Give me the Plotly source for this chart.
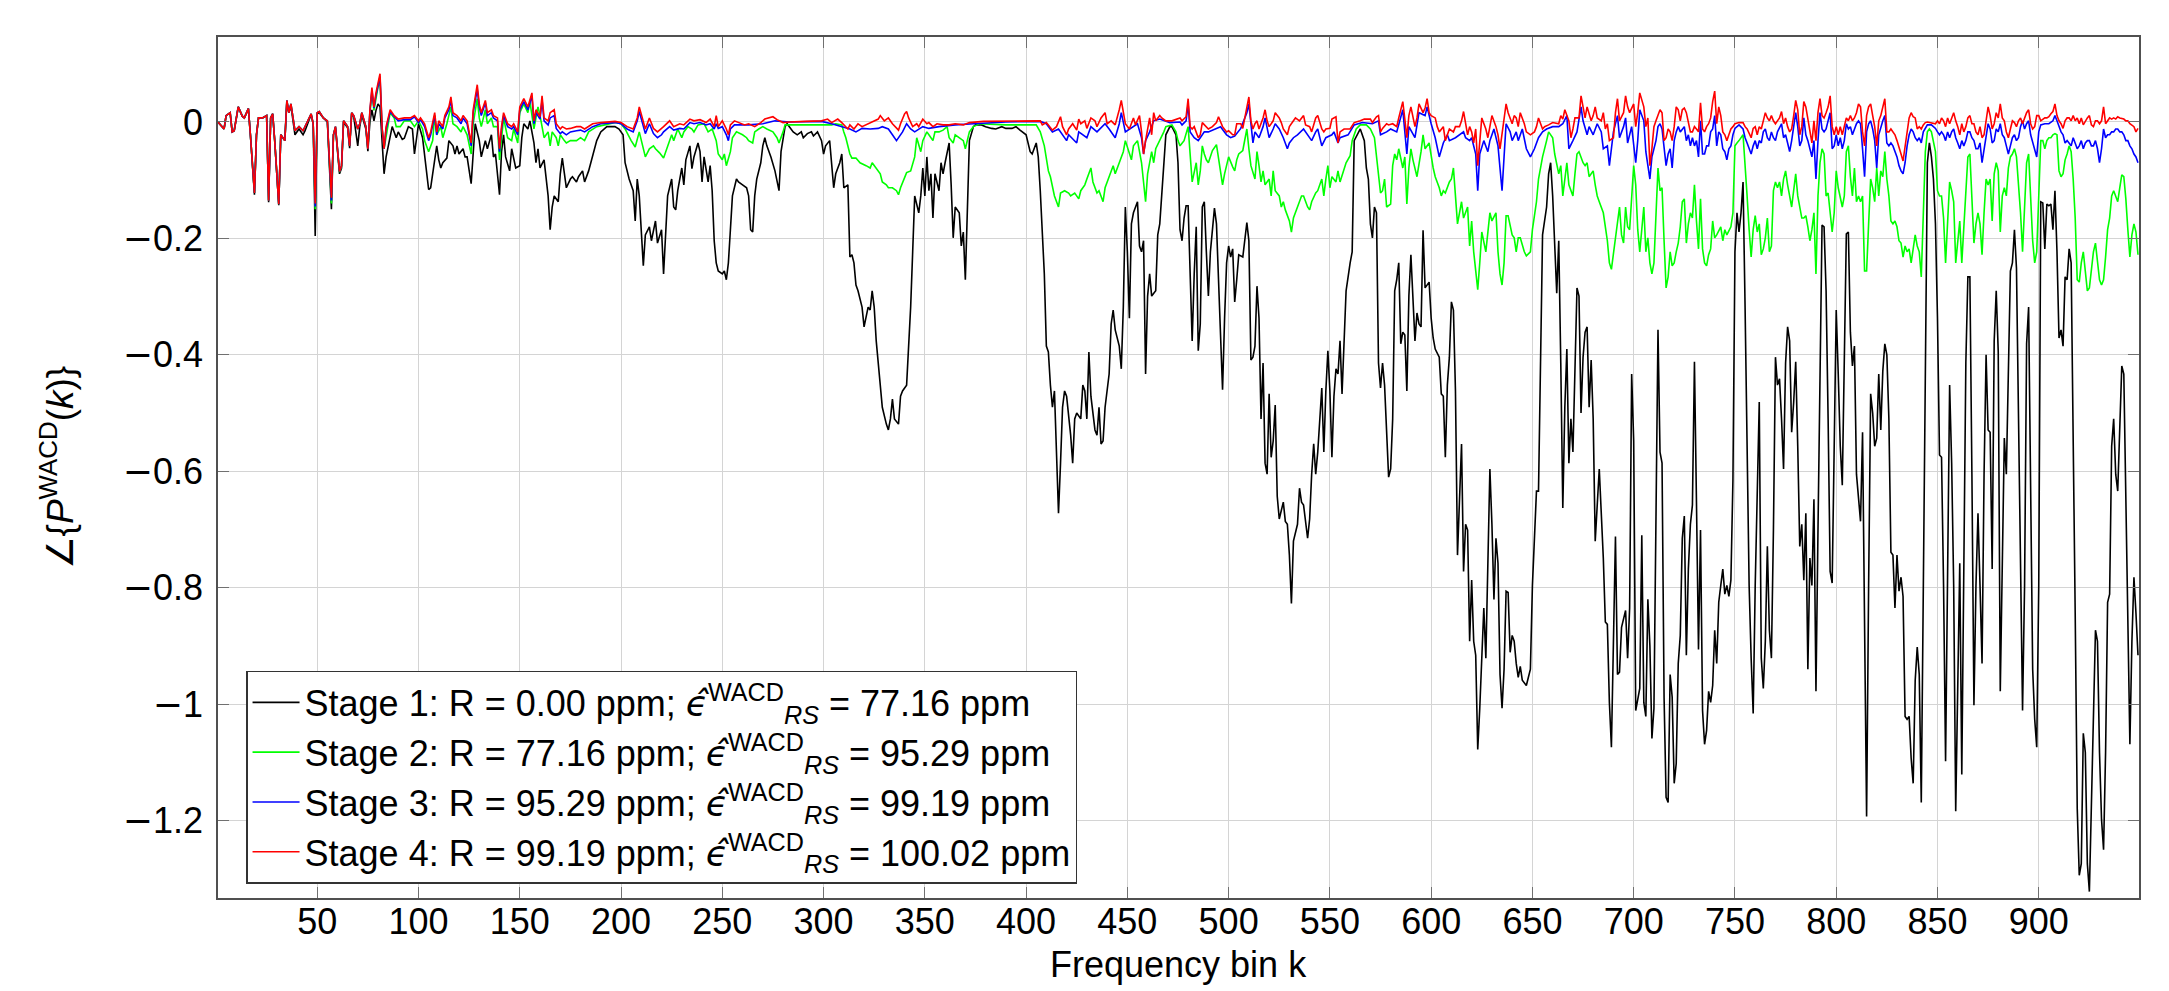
import plotly.graph_objects as go

# ---------------- data: (frequency bin k, phase) ----------------
stage1 = [(1,0.000),(4,-0.012),(5,0.011),(7,0.016),(8,-0.017),(9,-0.015),(11,0.026),(13,0.010),(14,0.007),(16,0.023),(17,-0.022),(19,-0.125),(20,-0.022),(21,0.007),(23,0.007),(25,0.011),(26,-0.138),(27,0.007),(28,0.014),(29,-0.032),(31,-0.143),(32,-0.022),(34,-0.032),(35,0.034),(36,0.016),(37,0.028),(39,-0.022),(40,-0.017),(41,-0.012),(43,-0.022),(44,-0.015),(46,0.004),(47,0.012),(48,-0.003),(49,-0.196),(50,0.014),(51,0.016),(53,0.007),(55,0.000),(57,-0.150),(58,-0.022),(59,-0.010),(61,-0.089),(62,-0.079),(63,0.000),(65,-0.010),(66,-0.045),(67,0.014),(68,0.009),(70,-0.041),(71,-0.008),(72,0.012),(74,-0.012),(75,-0.050),(76,0.000),(77,0.021),(78,0.002),(79,0.020),(80,0.031),(81,0.026),(82,-0.041),(83,-0.089),
(84,-0.060),(86,-0.022),(87,-0.008),(89,-0.027),(90,-0.017),(92,-0.030),(93,-0.028),(95,-0.008),(97,-0.012),(98,-0.055),(100,-0.003),(102,-0.027),(103,-0.060),(105,-0.116),(106,-0.113),(108,-0.070),(109,-0.041),(110,-0.065),(111,-0.079),(112,-0.070),(114,-0.062),(115,-0.032),(117,-0.041),(118,-0.055),(119,-0.041),(120,-0.055),(122,-0.046),(123,-0.060),(124,-0.060),(126,-0.106),(127,-0.055),(128,-0.003),(130,-0.032),(131,-0.060),(133,-0.032),(134,-0.046),(136,-0.022),(137,-0.060),(138,-0.055),(140,-0.125),(141,-0.051),(142,-0.022),(143,-0.060),(145,-0.084),(146,-0.046),(147,-0.060),(148,-0.079),(150,-0.075),(151,-0.027),(152,-0.003),(154,-0.012),(155,0.002),(157,-0.036),(158,-0.070),(159,-0.046),(160,-0.079),(162,-0.065),(164,-0.127),(165,-0.185),(166,-0.146),(167,-0.127),(169,-0.137),(170,-0.089),(171,-0.062),(172,-0.084),(173,-0.113),(175,-0.098),(176,-0.094),(178,-0.103),(179,-0.094),(181,-0.084),(182,-0.103),(184,-0.084),(185,-0.070),(187,-0.046),(188,-0.032),(190,-0.017),(192,-0.011),(193,-0.008),(197,-0.008),(199,-0.012),(201,-0.022),(202,-0.070),(204,-0.098),(206,-0.118),(207,-0.170),(208,-0.098),(209,-0.127),(211,-0.247),(212,-0.194),(214,-0.180),(215,-0.204),(216,-0.185),(217,-0.170),(218,-0.208),(220,-0.185),(221,-0.261),(222,-0.194),(223,-0.127),(225,-0.098),(226,-0.146),(227,-0.151),(228,-0.118),(230,-0.079),(231,-0.108),(232,-0.065),(234,-0.041),(235,-0.080),(236,-0.060),(238,-0.036),(239,-0.051),(240,-0.103),(241,-0.060),(243,-0.103),(244,-0.075),(245,-0.118),(246,-0.204),(247,-0.242),(248,-0.256),(250,-0.261),(251,-0.256),(252,-0.271),(253,-0.242),(254,-0.185),(255,-0.127),(257,-0.098),(258,-0.103),(260,-0.108),(262,-0.113),(263,-0.127),(264,-0.185),(265,-0.189),(266,-0.127),(267,-0.098),(269,-0.070),(270,-0.041),(271,-0.027),(272,-0.041),(274,-0.060),(276,-0.084),(277,-0.103),(278,-0.118),(279,-0.051),(281,-0.008),(282,-0.003),(284,-0.012),(285,-0.017),(287,-0.022),(289,-0.017),(290,-0.027),(292,-0.020),(294,-0.017),(295,-0.024),(297,-0.017),(299,-0.032),(300,-0.055),(301,-0.041),(303,-0.032),(304,-0.070),(305,-0.113),(306,-0.089),(308,-0.070),(309,-0.055),(310,-0.113),(312,-0.108),(313,-0.232),(314,-0.228),(315,-0.242),(316,-0.280),(317,-0.290),(319,-0.318),(320,-0.352),(322,-0.318),(323,-0.323),(324,-0.290),(325,-0.318),(326,-0.376),(327,-0.414),(328,-0.452),(329,-0.490),(331,-0.519),(332,-0.529),(333,-0.510),(334,-0.476),(335,-0.510),(337,-0.519),(338,-0.471),(339,-0.462),(341,-0.452),(342,-0.395),(343,-0.318),(344,-0.223),(345,-0.127),(347,-0.156),(348,-0.127),(349,-0.079),(350,-0.127),(351,-0.060),(352,-0.118),(353,-0.089),(354,-0.165),(355,-0.089),(357,-0.118),(358,-0.070),(359,-0.089),(360,-0.070),(362,-0.036),(363,-0.108),(364,-0.199),(365,-0.146),(367,-0.156),(368,-0.213),(369,-0.189),(370,-0.271),(371,-0.127),(372,-0.032),(374,-0.008),(375,-0.005),(378,-0.005),(380,-0.008),(383,-0.011),(385,-0.012),(388,-0.008),(390,-0.011),(393,-0.011),(395,-0.008),(397,-0.014),(400,-0.022),(402,-0.051),(403,-0.055),(405,-0.036),(406,-0.060),(407,-0.118),(408,-0.185),(409,-0.261),(410,-0.385),(411,-0.395),(412,-0.452),(413,-0.490),(414,-0.462),(415,-0.586),(416,-0.672),(417,-0.586),(418,-0.490),(419,-0.462),(420,-0.471),(422,-0.538),(423,-0.586),(424,-0.510),(425,-0.500),(427,-0.510),(428,-0.452),(429,-0.462),(430,-0.510),(431,-0.395),(432,-0.471),(434,-0.529),(435,-0.538),(436,-0.490),(437,-0.553),(438,-0.548),(439,-0.490),(441,-0.433),(442,-0.347),(443,-0.323),(444,-0.357),(446,-0.385),(447,-0.424),(448,-0.318),(449,-0.146),(450,-0.223),(451,-0.337),(452,-0.175),(453,-0.156),(455,-0.137),(456,-0.213),(457,-0.223),(458,-0.204),(459,-0.433),(460,-0.299),(461,-0.261),(462,-0.299),(464,-0.290),(465,-0.194),(466,-0.175),(467,-0.118),(468,-0.070),(469,-0.022),(471,-0.008),(472,-0.008),(474,-0.022),(475,-0.070),(476,-0.185),(477,-0.204),(478,-0.165),(479,-0.144),(480,-0.144),(481,-0.271),(482,-0.376),(483,-0.261),(484,-0.180),(485,-0.393),(486,-0.347),(487,-0.146),(488,-0.137),(489,-0.223),(490,-0.299),(491,-0.223),(493,-0.148),(494,-0.175),(495,-0.280),(497,-0.460),(498,-0.337),(499,-0.242),(500,-0.213),(501,-0.232),(502,-0.218),(503,-0.309),(504,-0.271),(505,-0.228),(507,-0.232),(508,-0.204),(509,-0.173),(510,-0.204),(511,-0.409),(512,-0.404),(513,-0.385),(514,-0.282),(515,-0.337),(516,-0.510),(517,-0.414),(518,-0.586),(519,-0.605),(520,-0.467),(521,-0.576),(522,-0.548),(523,-0.486),(524,-0.643),(525,-0.682),(527,-0.653),(528,-0.686),(529,-0.691),(530,-0.744),(531,-0.827),(532,-0.720),(534,-0.691),(535,-0.629),(536,-0.653),(537,-0.658),(539,-0.715),(540,-0.682),(541,-0.605),(542,-0.553),(543,-0.605),(544,-0.567),(546,-0.457),(547,-0.567),(548,-0.462),(549,-0.393),(550,-0.462),(551,-0.576),(552,-0.471),(553,-0.424),(554,-0.433),(555,-0.376),(556,-0.467),(557,-0.376),(558,-0.290),(560,-0.242),(561,-0.223),(562,-0.032),(564,-0.017),(565,-0.012),(567,-0.032),(568,-0.079),(569,-0.098),(570,-0.175),(571,-0.199),(572,-0.146),(573,-0.156),(574,-0.414),(575,-0.457),(576,-0.414),(577,-0.452),(578,-0.538),(579,-0.610),(580,-0.596),(581,-0.510),(582,-0.290),(583,-0.271),(584,-0.242),(585,-0.381),(586,-0.361),(587,-0.366),(588,-0.462),(589,-0.299),(590,-0.228),(591,-0.318),(592,-0.376),(593,-0.328),(594,-0.347),(595,-0.352),(596,-0.186),(597,-0.285),(598,-0.280),(599,-0.275),(600,-0.337),(601,-0.371),(602,-0.390),(604,-0.404),(605,-0.467),(606,-0.471),(607,-0.576),(608,-0.452),(609,-0.404),(610,-0.309),(611,-0.323),(612,-0.462),(613,-0.744),(614,-0.663),(615,-0.553),(616,-0.772),(617,-0.691),(618,-0.701),(619,-0.892),(620,-0.787),(621,-0.892),(622,-0.916),(623,-1.078),(624,-1.007),(625,-0.911),(626,-0.835),(627,-0.921),(628,-0.749),(629,-0.596),(630,-0.691),(631,-0.820),(632,-0.715),(633,-0.758),(634,-0.949),(635,-1.007),(636,-0.940),(637,-0.806),(638,-0.808),(639,-0.911),(640,-0.882),(641,-0.892),(642,-0.930),(643,-0.954),(644,-0.935),(645,-0.959),(647,-0.968),(648,-0.954),(649,-0.940),(650,-0.796),(652,-0.634),(653,-0.634),(654,-0.414),(655,-0.194),(657,-0.146),(658,-0.089),(659,-0.070),(660,-0.127),(662,-0.294),(663,-0.204),(664,-0.414),(665,-0.663),(666,-0.490),(667,-0.390),(668,-0.586),(669,-0.510),(670,-0.567),(671,-0.414),(672,-0.285),(673,-0.299),(674,-0.500),(675,-0.404),(676,-0.361),(677,-0.352),(678,-0.490),(679,-0.409),(680,-0.510),(681,-0.720),(682,-0.653),(683,-0.596),(685,-0.749),(686,-0.859),(687,-0.863),(688,-0.997),(689,-1.074),(690,-0.873),(691,-0.712),(692,-0.949),(693,-0.945),(694,-0.868),(695,-0.854),(696,-0.839),(697,-0.921),(698,-0.835),(699,-0.433),(700,-0.548),(701,-1.011),(703,-0.973),(704,-0.710),(705,-0.997),(706,-1.021),(707,-0.820),(708,-0.900),(709,-1.059),(710,-1.007),(711,-0.701),(712,-0.357),(713,-0.567),(714,-0.586),(715,-0.988),(716,-1.160),(717,-1.169),(718,-0.949),(719,-0.988),(720,-1.136),(721,-1.102),(722,-0.930),(723,-0.882),(724,-0.715),(725,-0.677),(726,-0.916),(727,-0.768),(728,-0.691),(729,-0.658),(730,-0.412),(731,-0.653),(732,-0.906),(733,-0.701),(734,-1.011),(735,-1.069),(736,-1.045),(737,-0.978),(738,-0.997),(739,-0.968),(740,-0.873),(741,-0.930),(742,-0.825),(743,-0.796),(744,-0.768),(745,-0.811),(746,-0.796),(747,-0.815),(748,-0.787),(749,-0.615),(750,-0.223),(751,-0.156),(752,-0.189),(753,-0.156),(754,-0.103),(755,-0.318),(756,-0.605),(757,-0.796),(758,-0.921),(759,-1.016),(760,-0.796),(761,-0.624),(762,-0.481),(763,-0.921),(764,-0.973),(765,-0.892),(766,-0.729),(767,-0.873),(768,-0.921),(769,-0.701),(770,-0.404),(771,-0.452),(772,-0.441),(773,-0.510),(774,-0.596),(775,-0.414),(776,-0.352),(777,-0.376),(778,-0.533),(779,-0.481),(780,-0.412),(781,-0.557),(782,-0.729),(783,-0.691),(784,-0.787),(785,-0.672),(786,-0.940),(787,-0.749),(788,-0.796),(789,-0.648),(790,-0.978),(791,-0.701),(792,-0.414),(793,-0.177),(794,-0.180),(795,-0.290),(796,-0.510),(797,-0.772),(798,-0.792),(799,-0.557),(800,-0.323),(801,-0.433),(802,-0.557),(803,-0.624),(804,-0.404),(805,-0.192),(806,-0.189),(807,-0.361),(808,-0.419),(809,-0.385),(810,-0.605),(811,-0.653),(812,-0.686),(813,-0.533),(814,-0.892),(815,-1.193),(816,-0.796),(817,-0.467),(818,-0.500),(819,-0.557),(820,-0.543),(821,-0.433),(822,-0.529),(823,-0.428),(824,-0.381),(825,-0.400),(826,-0.510),(827,-0.739),(828,-0.744),(829,-0.835),(830,-0.744),(831,-0.806),(832,-0.782),(833,-0.815),(834,-1.021),(835,-1.026),(836,-1.021),(837,-1.093),(838,-1.136),(839,-0.959),(840,-0.902),(841,-0.949),(842,-1.169),(843,-0.796),(844,-0.318),(845,-0.070),(846,-0.036),(847,-0.060),(848,-0.098),(849,-0.175),(850,-0.337),(851,-0.572),(852,-0.576),(853,-0.796),(854,-1.098),(855,-0.796),(856,-0.452),(857,-0.586),(858,-0.796),(859,-1.184),(860,-0.988),(861,-0.758),(862,-1.121),(863,-0.796),(864,-0.414),(865,-0.266),(866,-0.266),(867,-0.605),(868,-1.002),(869,-0.796),(870,-0.672),(871,-0.796),(872,-0.930),(873,-0.605),(874,-0.400),(875,-0.529),(876,-0.533),(877,-0.768),(878,-0.376),(879,-0.290),(880,-0.395),(881,-0.978),(882,-0.749),(883,-0.543),(884,-0.605),(885,-0.433),(886,-0.256),(887,-0.242),(888,-0.185),(889,-0.251),(890,-0.510),(891,-0.796),(892,-1.011),(893,-0.796),(894,-0.381),(895,-0.318),(896,-0.605),(897,-0.940),(898,-1.026),(899,-1.074),(900,-0.796),(901,-0.137),(902,-0.139),(903,-0.218),(904,-0.141),(905,-0.144),(906,-0.141),(907,-0.185),(908,-0.118),(909,-0.223),(910,-0.371),(911,-0.357),(912,-0.385),(913,-0.266),(914,-0.271),(915,-0.218),(916,-0.242),(917,-0.510),(918,-0.844),(919,-1.179),(920,-1.294),(921,-1.274),(922,-1.050),(923,-1.083),(924,-1.274),(925,-1.322),(926,-1.179),(927,-0.988),(928,-0.873),(929,-0.892),(930,-1.083),(931,-1.198),(932,-1.250),(933,-1.083),(934,-0.825),(935,-0.811),(936,-0.557),(937,-0.510),(938,-0.605),(939,-0.634),(940,-0.510),(941,-0.419),(942,-0.433),(943,-0.653),(944,-0.796),(945,-1.069),(946,-0.892),(947,-0.782),(948,-0.844),(949,-0.916)]

stage2 = [(1,0.000),(4,-0.012),(5,0.011),(7,0.016),(8,-0.017),(9,-0.015),(11,0.026),(13,0.010),(14,0.007),(16,0.023),(17,-0.022),(19,-0.122),(20,-0.022),(21,0.007),(23,0.007),(25,0.011),(26,-0.135),(27,0.007),(28,0.014),(29,-0.032),(31,-0.141),(32,-0.022),(34,-0.032),(35,0.037),(36,0.016),(37,0.031),(39,-0.015),(40,-0.012),(41,-0.008),(43,-0.015),(44,-0.008),(46,0.007),(47,0.014),(48,-0.003),(49,-0.150),(50,0.016),(51,0.018),(53,0.007),(55,0.002),(57,-0.140),(58,-0.022),(59,-0.008),(61,-0.086),(62,-0.076),(63,0.002),(65,-0.008),(66,-0.041),(67,0.016),(68,0.011),(70,-0.012),(71,-0.003),(72,0.016),(74,-0.008),(75,-0.046),(76,0.015),(77,0.050),(78,0.020),(79,0.040),(80,0.060),(81,0.070),(82,-0.012),(83,-0.046),
(84,-0.027),(86,0.016),(88,0.007),(89,-0.008),(91,-0.008),(93,0.002),(96,0.002),(98,-0.008),(100,0.002),(102,-0.012),(103,-0.032),(105,-0.051),(107,-0.032),(108,0.011),(109,-0.022),(111,-0.008),(112,-0.027),(114,-0.003),(116,0.026),(117,-0.003),(119,-0.008),(121,-0.017),(122,-0.008),(124,-0.022),(126,-0.055),(127,-0.003),(129,0.040),(130,0.007),(131,-0.008),(133,0.021),(134,-0.003),(136,0.007),(137,-0.008),(139,-0.008),(140,-0.065),(141,-0.022),(142,0.007),(144,-0.027),(146,-0.032),(147,-0.012),(149,-0.036),(150,0.016),(152,0.031),(154,0.016),(155,0.035),(157,-0.012),(158,0.007),(159,0.026),(160,0.011),(162,-0.027),(164,-0.017),(165,-0.041),(166,-0.017),(168,-0.027),(169,-0.041),(170,-0.022),(172,-0.032),(173,-0.036),(175,-0.032),(178,-0.032),(180,-0.027),(182,-0.032),(184,-0.017),(186,-0.012),(188,-0.008),(192,-0.005),(197,-0.001),(200,-0.003),(202,-0.012),(205,-0.032),(207,-0.043),(209,-0.017),(211,-0.046),(212,-0.060),(214,-0.046),(216,-0.041),(217,-0.046),(219,-0.053),(221,-0.062),(223,-0.041),(225,-0.022),(226,-0.032),(228,-0.012),(230,-0.027),(231,-0.017),(233,-0.008),(235,-0.012),(236,-0.017),(238,-0.005),(241,-0.003),(243,-0.017),(245,-0.012),(247,-0.032),(248,-0.055),(250,-0.065),(251,-0.055),(252,-0.075),(254,-0.051),(255,-0.027),(257,-0.017),(260,-0.022),(262,-0.027),(263,-0.032),(265,-0.036),(266,-0.017),(268,-0.012),(270,-0.008),(272,-0.012),(275,-0.017),(277,-0.027),(278,-0.036),(280,-0.017),(281,-0.005),(290,-0.005),(300,-0.005),(304,-0.005),(306,-0.003),(309,-0.005),(310,-0.017),(311,-0.027),(313,-0.055),(314,-0.062),(316,-0.062),(318,-0.070),(321,-0.075),(323,-0.079),(324,-0.070),(326,-0.079),(328,-0.089),(329,-0.103),(331,-0.108),(332,-0.113),(334,-0.113),(336,-0.118),(337,-0.125),(338,-0.113),(340,-0.094),(341,-0.087),(343,-0.084),(345,-0.060),(346,-0.027),(348,-0.051),(349,-0.032),(351,-0.017),(352,-0.022),(354,-0.032),(355,-0.017),(357,-0.017),(359,-0.014),(361,-0.008),(362,-0.027),(364,-0.036),(365,-0.022),(367,-0.027),(369,-0.032),(370,-0.046),(372,-0.017),(374,-0.008),(377,-0.003),(390,-0.005),(405,-0.005),(407,-0.017),(409,-0.041),(411,-0.084),(412,-0.094),(414,-0.127),(416,-0.146),(417,-0.122),(419,-0.118),(421,-0.122),(422,-0.127),(424,-0.122),(426,-0.132),(427,-0.118),(429,-0.108),(430,-0.098),(432,-0.079),(433,-0.103),(435,-0.122),(436,-0.118),(438,-0.137),(439,-0.113),(441,-0.094),(443,-0.075),(444,-0.089),(446,-0.070),(448,-0.051),(449,-0.032),(451,-0.055),(452,-0.065),(453,-0.041),(455,-0.032),(456,-0.051),(457,-0.070),(459,-0.137),(460,-0.089),(462,-0.051),(463,-0.070),(464,-0.046),(466,-0.032),(468,-0.017),(469,-0.008),(472,-0.005),(474,-0.017),(475,-0.032),(476,-0.041),(478,-0.032),(480,-0.008),(481,-0.065),(482,-0.103),(484,-0.070),(485,-0.108),(486,-0.084),(487,-0.041),(488,-0.055),(489,-0.065),(490,-0.070),(492,-0.049),(494,-0.039),(495,-0.060),(497,-0.108),(498,-0.089),(499,-0.075),(500,-0.060),(502,-0.077),(503,-0.084),(504,-0.065),(505,-0.055),(507,-0.049),(508,-0.027),(509,-0.012),(510,-0.046),(511,-0.075),(513,-0.098),(514,-0.051),(515,-0.075),(516,-0.103),(517,-0.084),(518,-0.108),(520,-0.098),(521,-0.127),(522,-0.084),(523,-0.118),(525,-0.127),(526,-0.146),(527,-0.137),(528,-0.151),(530,-0.170),(531,-0.189),(532,-0.165),(534,-0.146),(536,-0.127),(537,-0.127),(539,-0.146),(540,-0.151),(541,-0.137),(543,-0.122),(544,-0.118),(546,-0.098),(547,-0.127),(548,-0.098),(549,-0.075),(550,-0.113),(551,-0.094),(553,-0.103),(554,-0.084),(555,-0.103),(557,-0.079),(558,-0.070),(560,-0.058),(561,-0.032),(563,-0.012),(565,-0.005),(568,-0.005),(570,-0.012),(572,-0.027),(573,-0.060),(575,-0.122),(576,-0.118),(577,-0.098),(578,-0.146),(580,-0.141),(581,-0.075),(582,-0.055),(583,-0.065),(584,-0.046),(586,-0.079),(587,-0.060),(588,-0.141),(589,-0.079),(590,-0.046),(591,-0.065),(593,-0.094),(594,-0.075),(595,-0.051),(596,-0.022),(597,-0.046),(599,-0.036),(600,-0.060),(601,-0.079),(602,-0.094),(604,-0.113),(605,-0.127),(606,-0.118),(607,-0.122),(609,-0.103),(610,-0.098),(611,-0.079),(612,-0.127),(613,-0.175),(614,-0.156),(615,-0.137),(616,-0.165),(618,-0.146),(619,-0.213),(620,-0.170),(621,-0.223),(623,-0.288),(624,-0.242),(625,-0.189),(627,-0.223),(628,-0.185),(629,-0.156),(630,-0.170),(632,-0.156),(633,-0.223),(634,-0.261),(635,-0.280),(636,-0.242),(637,-0.161),(638,-0.161),(640,-0.194),(641,-0.199),(642,-0.223),(643,-0.199),(644,-0.199),(646,-0.223),(647,-0.230),(649,-0.223),(650,-0.185),(652,-0.137),(653,-0.098),(655,-0.060),(657,-0.032),(658,-0.017),(660,-0.027),(661,-0.055),(663,-0.089),(664,-0.075),(665,-0.127),(666,-0.094),(667,-0.070),(668,-0.108),(670,-0.127),(671,-0.089),(672,-0.055),(673,-0.051),(675,-0.070),(676,-0.075),(677,-0.070),(678,-0.094),(680,-0.084),(681,-0.108),(682,-0.127),(683,-0.137),(685,-0.156),(687,-0.204),(688,-0.242),(689,-0.253),(690,-0.228),(692,-0.180),(693,-0.146),(694,-0.194),(695,-0.208),(696,-0.146),(697,-0.180),(698,-0.185),(700,-0.075),(701,-0.108),(702,-0.185),(703,-0.223),(705,-0.146),(706,-0.223),(707,-0.199),(708,-0.242),(709,-0.261),(710,-0.242),(711,-0.146),(712,-0.079),(713,-0.118),(714,-0.113),(715,-0.204),(716,-0.285),(717,-0.266),(718,-0.223),(719,-0.247),(720,-0.242),(721,-0.223),(722,-0.208),(723,-0.180),(724,-0.137),(725,-0.132),(726,-0.208),(727,-0.175),(728,-0.156),(729,-0.165),(730,-0.108),(731,-0.170),(732,-0.218),(733,-0.132),(734,-0.218),(735,-0.242),(736,-0.247),(737,-0.228),(738,-0.218),(739,-0.170),(740,-0.199),(741,-0.194),(743,-0.180),(744,-0.204),(745,-0.185),(746,-0.194),(748,-0.180),(749,-0.156),(750,-0.041),(751,-0.036),(752,-0.032),(754,-0.022),(755,-0.070),(756,-0.127),(757,-0.185),(758,-0.232),(759,-0.185),(760,-0.161),(761,-0.189),(762,-0.175),(763,-0.228),(764,-0.218),(765,-0.199),(766,-0.165),(767,-0.223),(768,-0.213),(769,-0.118),(770,-0.103),(771,-0.113),(772,-0.103),(773,-0.127),(774,-0.098),(775,-0.084),(776,-0.108),(778,-0.146),(779,-0.118),(780,-0.089),(781,-0.127),(783,-0.165),(784,-0.165),(785,-0.161),(786,-0.180),(787,-0.204),(788,-0.185),(789,-0.156),(790,-0.261),(791,-0.127),(792,-0.070),(793,-0.046),(794,-0.055),(795,-0.127),(796,-0.122),(797,-0.156),(798,-0.189),(799,-0.156),(800,-0.084),(801,-0.113),(802,-0.127),(803,-0.146),(804,-0.127),(805,-0.051),(806,-0.041),(807,-0.094),(808,-0.127),(809,-0.079),(810,-0.137),(811,-0.127),(812,-0.137),(813,-0.127),(814,-0.256),(815,-0.256),(816,-0.175),(817,-0.098),(818,-0.113),(819,-0.137),(820,-0.079),(821,-0.127),(822,-0.084),(823,-0.094),(824,-0.051),(825,-0.098),(826,-0.127),(827,-0.170),(828,-0.175),(829,-0.170),(830,-0.180),(831,-0.204),(832,-0.208),(833,-0.232),(834,-0.213),(835,-0.223),(836,-0.218),(837,-0.242),(838,-0.218),(839,-0.194),(840,-0.213),(841,-0.223),(842,-0.266),(843,-0.175),(844,-0.051),(845,-0.017),(846,-0.012),(847,-0.017),(848,-0.032),(849,-0.051),(850,-0.118),(851,-0.127),(852,-0.127),(853,-0.165),(854,-0.242),(855,-0.165),(856,-0.103),(857,-0.118),(858,-0.137),(859,-0.242),(860,-0.199),(861,-0.170),(862,-0.242),(863,-0.175),(864,-0.118),(865,-0.060),(866,-0.055),(867,-0.127),(868,-0.208),(869,-0.175),(870,-0.156),(871,-0.175),(872,-0.228),(873,-0.156),(874,-0.098),(875,-0.108),(876,-0.098),(877,-0.170),(878,-0.089),(879,-0.070),(880,-0.084),(881,-0.189),(882,-0.127),(883,-0.113),(884,-0.127),(885,-0.079),(886,-0.060),(887,-0.055),(888,-0.046),(889,-0.060),(890,-0.108),(891,-0.156),(892,-0.223),(893,-0.137),(894,-0.070),(895,-0.055),(896,-0.122),(897,-0.204),(898,-0.242),(899,-0.223),(900,-0.127),(901,-0.032),(902,-0.032),(903,-0.046),(904,-0.032),(905,-0.027),(906,-0.027),(907,-0.022),(908,-0.020),(909,-0.022),(910,-0.084),(911,-0.094),(912,-0.089),(913,-0.065),(914,-0.055),(915,-0.041),(916,-0.051),(917,-0.098),(918,-0.165),(919,-0.271),(920,-0.275),(921,-0.242),(922,-0.223),(923,-0.261),(924,-0.290),(925,-0.285),(926,-0.251),(927,-0.223),(928,-0.208),(929,-0.242),(930,-0.271),(931,-0.280),(932,-0.271),(933,-0.232),(934,-0.185),(935,-0.165),(936,-0.127),(937,-0.118),(938,-0.127),(939,-0.137),(940,-0.113),(941,-0.091),(942,-0.094),(943,-0.132),(944,-0.185),(945,-0.232),(946,-0.194),(947,-0.175),(948,-0.189),(949,-0.228)]

stage3 = [(1,0.000),(4,-0.012),(5,0.011),(7,0.016),(8,-0.017),(9,-0.015),(11,0.026),(13,0.010),(14,0.007),(16,0.023),(17,-0.022),(19,-0.122),(20,-0.022),(21,0.007),(23,0.007),(25,0.011),(26,-0.135),(27,0.007),(28,0.014),(29,-0.032),(31,-0.141),(32,-0.022),(34,-0.032),(35,0.037),(36,0.016),(37,0.031),(39,-0.015),(40,-0.012),(41,-0.008),(43,-0.015),(44,-0.008),(46,0.007),(47,0.014),(48,-0.003),(49,-0.145),(50,0.016),(51,0.018),(53,0.007),(55,0.002),(57,-0.135),(58,-0.022),(59,-0.008),(61,-0.085),(62,-0.075),(63,0.002),(65,-0.008),(66,-0.041),(67,0.016),(68,0.011),(70,-0.012),(71,-0.003),(72,0.016),(74,-0.008),(75,-0.046),(76,0.018),(77,0.055),(78,0.024),(79,0.046),(80,0.065),(81,0.078),(82,-0.010),(83,-0.046),
(84,-0.012),(86,0.018),(88,0.009),(90,0.002),(93,0.004),(96,0.004),(98,0.009),(100,-0.001),(101,0.004),(103,-0.008),(105,-0.032),(106,-0.022),(108,0.011),(109,-0.022),(110,-0.003),(112,-0.012),(113,0.007),(115,0.021),(116,0.037),(117,0.011),(119,0.007),(121,-0.003),(122,0.007),(124,-0.003),(126,-0.041),(127,0.016),(129,0.056),(130,0.026),(131,0.011),(133,0.033),(134,0.011),(136,0.016),(137,0.007),(139,0.002),(140,-0.051),(141,-0.012),(142,0.011),(144,-0.008),(146,-0.012),(147,-0.008),(149,-0.022),(150,0.021),(152,0.035),(154,0.021),(156,0.045),(157,-0.003),(158,0.016),(160,0.005),(161,0.037),(162,0.002),(164,-0.005),(165,0.007),(167,0.011),(168,-0.011),(170,-0.020),(171,-0.017),(173,-0.022),(175,-0.017),(178,-0.015),(180,-0.014),(182,-0.017),(184,-0.012),(186,-0.008),(190,-0.003),(197,-0.001),(200,-0.003),(203,-0.012),(206,-0.017),(208,0.002),(209,0.018),(211,-0.005),(212,-0.020),(214,-0.003),(216,-0.020),(218,-0.027),(220,-0.022),(221,-0.017),(224,-0.008),(226,-0.014),(229,-0.011),(231,-0.012),(234,-0.001),(236,-0.003),(239,-0.001),(242,-0.005),(244,-0.003),(246,-0.012),(247,-0.003),(248,-0.011),(250,-0.008),(252,-0.022),(253,-0.032),(254,-0.012),(256,-0.005),(258,-0.005),(263,-0.005),(270,-0.003),(276,0.002),(283,0.000),(299,0.001),(304,-0.003),(311,-0.011),(313,-0.012),(316,-0.017),(319,-0.011),(323,-0.012),(327,-0.011),(329,-0.008),(332,-0.012),(334,-0.022),(336,-0.032),(339,-0.017),(341,-0.003),(343,-0.012),(345,-0.017),(349,-0.008),(352,-0.011),(357,-0.008),(365,-0.005),(374,-0.003),(390,0.000),(407,0.001),(410,-0.003),(413,-0.017),(416,-0.012),(420,-0.032),(421,-0.022),(425,-0.036),(426,-0.017),(430,-0.027),(432,-0.008),(435,-0.017),(439,-0.003),(441,-0.012),(444,-0.027),(446,-0.003),(447,0.016),(449,-0.017),(453,-0.008),(455,-0.003),(457,-0.027),(458,-0.055),(459,-0.032),(461,-0.017),(463,0.002),(466,0.005),(471,-0.001),(476,0.000),(477,-0.005),(479,0.002),(480,0.031),(481,-0.017),(483,-0.027),(485,-0.032),(486,-0.027),(488,-0.017),(490,-0.017),(494,-0.011),(496,-0.008),(499,-0.022),(501,-0.027),(503,-0.024),(506,-0.011),(509,0.016),(510,0.031),(512,-0.036),(513,-0.017),(515,-0.027),(517,-0.008),(518,0.007),(520,-0.027),(522,-0.012),(523,-0.003),(525,-0.012),(527,-0.027),(529,-0.046),(530,-0.036),(532,-0.027),(534,-0.022),(537,-0.012),(539,-0.022),(541,-0.032),(543,-0.017),(544,-0.012),(546,-0.041),(548,-0.027),(551,-0.022),(552,-0.017),(554,-0.036),(555,-0.027),(559,-0.022),(562,-0.005),(566,-0.001),(571,-0.003),(574,0.002),(575,-0.022),(578,-0.017),(580,-0.012),(583,-0.017),(584,-0.003),(586,0.021),(588,-0.055),(589,-0.008),(592,-0.027),(593,-0.003),(594,0.016),(597,0.011),(598,0.026),(600,-0.003),(602,-0.027),(604,-0.060),(606,-0.036),(608,-0.022),(609,-0.032),(612,-0.027),(614,-0.022),(616,-0.017),(617,-0.027),(619,-0.032),(620,-0.027),(622,-0.055),(623,-0.118),(624,-0.055),(626,-0.032),(628,-0.051),(629,-0.032),(631,-0.012),(633,-0.041),(634,-0.084),(635,-0.118),(636,-0.060),(637,-0.003),(639,-0.017),(640,-0.032),(642,-0.017),(643,-0.032),(645,-0.012),(647,-0.046),(649,-0.060),(651,-0.046),(653,-0.027),(655,-0.017),(657,-0.012),(660,-0.008),(663,-0.008),(665,-0.003),(667,0.011),(668,-0.046),(670,-0.032),(672,-0.017),(674,0.026),(675,0.002),(677,-0.022),(678,-0.008),(680,-0.022),(682,-0.003),(684,-0.017),(685,-0.046),(687,-0.041),(688,-0.075),(690,-0.017),(692,0.011),(693,-0.027),(695,-0.008),(696,0.007),(697,-0.036),(699,-0.008),(701,-0.070),(702,-0.032),(703,0.021),(705,0.002),(706,-0.051),(708,-0.098),(709,-0.060),(710,-0.046),(711,-0.032),(712,-0.008),(713,-0.003),(714,-0.012),(715,-0.046),(716,-0.075),(717,-0.055),(718,-0.046),(719,-0.079),(720,-0.032),(721,-0.017),(722,-0.008),(723,-0.017),(724,-0.012),(725,-0.008),(726,-0.032),(727,-0.022),(728,-0.041),(729,-0.027),(730,-0.041),(731,-0.032),(732,-0.060),(733,0.002),(734,-0.055),(735,-0.055),(736,-0.041),(737,-0.041),(738,-0.017),(739,-0.012),(740,0.011),(741,-0.041),(742,-0.017),(743,-0.022),(744,-0.046),(745,-0.051),(746,-0.065),(747,-0.046),(748,-0.041),(749,-0.022),(750,-0.011),(751,-0.008),(752,-0.005),(754,-0.012),(755,-0.027),(756,-0.036),(758,-0.055),(759,-0.041),(760,-0.032),(761,-0.046),(762,-0.032),(763,-0.036),(764,-0.017),(765,-0.012),(766,-0.027),(767,-0.032),(768,-0.017),(769,-0.027),(770,-0.032),(771,-0.017),(772,-0.011),(773,-0.003),(774,-0.027),(775,-0.022),(776,-0.036),(777,-0.051),(778,-0.032),(779,-0.008),(780,0.016),(781,-0.008),(782,-0.041),(783,-0.032),(784,0.007),(785,-0.022),(786,-0.032),(787,-0.046),(788,-0.060),(789,-0.032),(790,-0.098),(791,-0.032),(792,0.016),(793,-0.012),(794,-0.017),(795,-0.012),(796,0.002),(797,0.016),(798,-0.046),(799,-0.041),(800,-0.022),(801,-0.041),(802,-0.027),(803,-0.046),(804,-0.032),(805,-0.003),(806,-0.012),(807,-0.008),(808,-0.022),(809,-0.012),(810,-0.003),(811,0.002),(812,-0.003),(813,-0.046),(814,-0.094),(815,-0.017),(816,-0.003),(817,0.002),(818,-0.012),(819,-0.032),(820,-0.079),(821,-0.022),(822,-0.008),(823,0.002),(824,0.011),(825,-0.036),(826,-0.041),(827,-0.036),(828,-0.041),(829,-0.051),(830,-0.060),(831,-0.075),(832,-0.084),(833,-0.089),(834,-0.070),(835,-0.041),(836,-0.022),(837,-0.012),(838,-0.017),(839,-0.027),(840,-0.032),(841,-0.027),(842,-0.036),(843,-0.017),(844,-0.011),(845,-0.005),(847,-0.005),(849,-0.011),(850,-0.017),(851,-0.022),(852,-0.017),(853,-0.022),(854,-0.032),(855,-0.017),(856,-0.027),(857,-0.017),(858,-0.012),(859,-0.027),(860,-0.036),(861,-0.046),(862,-0.032),(863,-0.041),(864,-0.032),(865,-0.017),(866,-0.017),(867,-0.027),(868,-0.032),(869,-0.046),(870,-0.046),(871,-0.036),(872,-0.070),(873,-0.046),(874,-0.022),(875,-0.003),(876,-0.012),(877,-0.036),(878,-0.032),(879,-0.012),(880,-0.017),(881,-0.003),(882,-0.022),(883,-0.027),(884,-0.041),(885,-0.055),(886,-0.041),(887,-0.027),(888,-0.022),(889,-0.032),(890,-0.027),(891,-0.008),(892,0.002),(893,-0.012),(894,-0.003),(895,0.002),(896,-0.022),(897,-0.036),(898,-0.046),(899,-0.060),(900,-0.017),(901,-0.005),(903,-0.003),(905,-0.003),(907,0.002),(908,0.011),(909,0.002),(910,-0.008),(911,-0.017),(912,-0.022),(913,-0.036),(914,-0.032),(915,-0.036),(916,-0.041),(917,-0.027),(918,-0.036),(919,-0.046),(920,-0.041),(921,-0.032),(922,-0.046),(923,-0.036),(924,-0.032),(925,-0.032),(926,-0.041),(927,-0.041),(928,-0.032),(929,-0.046),(930,-0.070),(931,-0.046),(932,-0.012),(933,-0.027),(934,-0.022),(935,-0.022),(936,-0.017),(937,-0.017),(938,-0.012),(939,-0.012),(940,-0.017),(941,-0.017),(942,-0.022),(943,-0.032),(944,-0.032),(945,-0.041),(946,-0.046),(947,-0.055),(948,-0.060),(949,-0.070)]

stage4 = [(1,0.000),(4,-0.012),(5,0.011),(7,0.016),(8,-0.017),(9,-0.015),(11,0.026),(13,0.010),(14,0.007),(16,0.023),(17,-0.022),(19,-0.122),(20,-0.022),(21,0.007),(23,0.007),(25,0.011),(26,-0.135),(27,0.007),(28,0.014),(29,-0.032),(31,-0.141),(32,-0.022),(34,-0.032),(35,0.037),(36,0.016),(37,0.031),(39,-0.015),(40,-0.012),(41,-0.008),(43,-0.015),(44,-0.008),(46,0.007),(47,0.014),(48,-0.003),(49,-0.140),(50,0.016),(51,0.018),(53,0.007),(55,0.002),(57,-0.130),(58,-0.022),(59,-0.008),(61,-0.085),(62,-0.075),(63,0.002),(65,-0.008),(66,-0.041),(67,0.016),(68,0.011),(70,-0.012),(71,-0.003),(72,0.016),(74,-0.008),(75,-0.046),(76,0.020),(77,0.059),(78,0.026),(79,0.050),(80,0.069),(81,0.083),(82,-0.008),(83,-0.046),
(84,-0.008),(86,0.021),(88,0.011),(90,0.005),(93,0.007),(96,0.007),(98,0.011),(100,0.002),(101,0.007),(103,-0.003),(105,-0.027),(106,-0.017),(108,0.016),(109,-0.017),(110,0.002),(112,-0.008),(113,0.011),(115,0.026),(116,0.043),(117,0.016),(119,0.011),(121,0.002),(122,0.011),(124,0.002),(126,-0.036),(127,0.021),(129,0.064),(130,0.031),(131,0.016),(133,0.037),(134,0.016),(136,0.021),(137,0.011),(139,0.007),(140,-0.046),(141,-0.008),(142,0.016),(144,-0.003),(146,-0.008),(147,-0.003),(149,-0.017),(150,0.026),(152,0.040),(154,0.026),(156,0.050),(157,0.002),(158,0.021),(160,0.009),(161,0.045),(162,0.007),(164,0.002),(165,0.016),(167,0.021),(168,-0.003),(170,-0.012),(171,-0.008),(173,-0.012),(175,-0.011),(178,-0.008),(180,-0.008),(182,-0.012),(184,-0.008),(186,-0.003),(190,-0.001),(197,0.001),(200,-0.001),(203,-0.008),(206,-0.012),(208,0.007),(209,0.026),(211,0.002),(212,-0.012),(214,0.007),(216,-0.011),(218,-0.017),(220,-0.012),(221,-0.008),(224,0.002),(226,-0.008),(229,-0.003),(231,-0.005),(234,0.005),(236,0.002),(239,0.004),(242,-0.001),(244,0.005),(246,-0.008),(247,0.011),(248,-0.008),(250,0.002),(252,-0.012),(253,-0.022),(254,-0.005),(256,0.002),(258,-0.001),(261,-0.005),(263,-0.003),(266,-0.008),(269,-0.001),(271,0.005),(275,0.009),(277,0.004),(280,-0.001),(283,0.000),(291,0.001),(299,0.002),(302,0.005),(304,-0.001),(307,0.005),(309,-0.001),(312,-0.012),(313,-0.005),(315,-0.012),(317,-0.003),(319,-0.008),(322,-0.003),(324,-0.001),(327,0.005),(328,0.011),(330,0.002),(332,0.007),(334,-0.003),(337,-0.014),(338,-0.003),(340,0.014),(341,0.018),(342,0.007),(344,-0.008),(346,-0.003),(347,-0.008),(349,0.005),(351,-0.003),(352,-0.001),(354,-0.008),(356,-0.003),(359,-0.005),(362,-0.005),(365,-0.003),(369,-0.005),(372,-0.001),(379,0.001),(390,0.001),(398,0.001),(407,0.002),(408,-0.005),(410,-0.001),(411,-0.005),(413,-0.014),(415,-0.008),(417,0.009),(418,-0.008),(420,-0.022),(421,-0.012),(423,-0.003),(425,-0.014),(426,0.005),(427,-0.003),(429,0.002),(430,-0.011),(432,0.007),(434,0.002),(435,-0.008),(437,0.007),(439,0.016),(440,-0.003),(442,0.002),(444,-0.005),(445,0.011),(446,0.021),(447,0.037),(448,0.016),(449,-0.003),(451,-0.012),(453,0.007),(454,-0.005),(456,0.011),(457,-0.017),(458,-0.055),(459,-0.032),(461,0.007),(462,-0.022),(463,0.016),(464,0.002),(466,0.011),(467,0.007),(469,0.002),(472,0.002),(476,0.007),(477,0.002),(479,0.009),(480,0.040),(481,-0.008),(482,-0.012),(483,-0.008),(485,-0.027),(486,-0.022),(487,-0.001),(489,-0.008),(490,-0.012),(492,-0.008),(494,-0.001),(495,0.009),(497,-0.008),(499,-0.017),(500,-0.015),(502,-0.022),(503,-0.022),(504,-0.003),(506,-0.003),(507,-0.011),(509,0.026),(510,0.043),(511,0.002),(512,-0.012),(513,-0.003),(514,0.002),(515,-0.012),(517,0.007),(518,0.021),(519,0.002),(520,-0.008),(522,0.002),(523,0.016),(525,0.007),(526,-0.001),(527,-0.012),(529,-0.022),(530,-0.008),(532,0.002),(533,0.007),(535,0.002),(537,0.011),(538,-0.005),(540,-0.008),(541,-0.017),(543,0.007),(544,0.011),(546,-0.012),(547,-0.017),(548,-0.012),(550,-0.011),(551,0.005),(553,0.009),(554,-0.036),(555,-0.017),(557,-0.012),(560,-0.012),(562,-0.001),(565,0.002),(567,0.005),(570,0.005),(571,-0.001),(573,0.009),(574,0.011),(575,-0.017),(576,-0.011),(578,-0.003),(579,-0.005),(581,-0.003),(583,-0.008),(584,0.007),(586,0.035),(587,0.005),(588,-0.027),(589,0.011),(590,0.026),(592,-0.008),(593,0.007),(594,0.031),(596,0.016),(597,0.024),(598,0.040),(599,0.016),(600,0.011),(602,0.007),(603,-0.008),(604,-0.017),(606,-0.008),(607,-0.032),(609,-0.012),(611,-0.017),(612,-0.008),(614,-0.008),(615,0.002),(616,0.018),(618,-0.022),(619,-0.008),(620,-0.017),(621,-0.036),(622,-0.012),(623,-0.075),(624,-0.032),(625,0.007),(627,-0.012),(628,-0.027),(629,-0.008),(630,0.011),(632,-0.008),(633,-0.022),(634,-0.046),(635,-0.017),(637,0.031),(638,0.016),(640,-0.003),(641,0.011),(642,0.007),(643,-0.008),(644,0.016),(646,-0.003),(647,-0.017),(649,-0.022),(651,-0.017),(652,-0.008),(653,0.007),(655,-0.012),(656,-0.008),(658,-0.005),(660,-0.001),(663,-0.003),(664,0.011),(665,0.005),(666,0.021),(668,0.002),(669,-0.027),(670,-0.012),(671,0.007),(673,0.007),(674,0.045),(675,0.026),(676,0.007),(677,0.026),(679,0.002),(680,0.011),(681,0.026),(682,0.007),(684,0.002),(685,0.016),(686,-0.012),(687,-0.003),(688,-0.032),(690,-0.027),(691,0.016),(692,0.040),(693,0.002),(695,0.016),(696,0.045),(697,0.026),(698,0.016),(700,0.031),(701,-0.008),(702,0.016),(703,0.050),(705,0.026),(706,-0.008),(707,0.007),(708,-0.075),(709,-0.046),(710,-0.008),(711,0.002),(712,0.011),(713,0.021),(714,0.016),(715,-0.032),(716,-0.027),(717,-0.012),(718,-0.017),(719,-0.032),(720,-0.008),(721,0.026),(722,0.021),(723,0.002),(724,0.021),(725,0.024),(726,0.016),(727,0.002),(728,-0.017),(729,-0.017),(730,-0.008),(731,-0.012),(732,-0.017),(733,0.033),(734,-0.012),(735,-0.017),(736,-0.008),(737,-0.003),(738,0.007),(739,0.035),(740,0.053),(741,-0.003),(742,0.026),(743,0.011),(744,-0.017),(745,-0.022),(746,-0.032),(747,-0.022),(748,-0.012),(749,-0.008),(750,-0.003),(752,-0.001),(754,-0.001),(755,-0.008),(756,-0.012),(758,-0.027),(759,-0.011),(760,-0.008),(761,-0.022),(762,-0.008),(763,-0.012),(764,0.002),(765,0.016),(766,0.007),(767,0.002),(768,0.011),(769,0.002),(770,-0.003),(771,0.002),(772,0.007),(773,0.018),(774,-0.003),(775,0.007),(776,-0.008),(777,-0.017),(778,-0.012),(779,0.011),(780,0.037),(781,0.021),(782,-0.022),(783,-0.008),(784,0.035),(785,0.026),(786,0.007),(787,-0.017),(788,-0.036),(789,0.002),(790,-0.032),(791,0.016),(792,0.040),(793,0.011),(794,0.007),(795,0.016),(796,0.026),(797,0.045),(798,-0.008),(799,-0.022),(800,-0.008),(801,-0.022),(802,-0.008),(803,-0.022),(804,-0.008),(805,0.007),(806,0.002),(807,0.011),(808,0.002),(809,0.007),(810,0.016),(811,0.031),(812,0.026),(813,-0.017),(814,-0.041),(815,0.011),(816,0.026),(817,0.031),(818,0.011),(819,-0.008),(820,-0.041),(821,0.002),(822,0.011),(823,0.026),(824,0.040),(825,-0.017),(826,-0.017),(827,-0.012),(828,-0.017),(829,-0.022),(830,-0.032),(831,-0.046),(832,-0.055),(833,-0.067),(834,-0.041),(835,-0.017),(836,0.007),(837,0.016),(838,0.009),(839,0.007),(840,-0.012),(841,-0.008),(842,-0.012),(843,-0.005),(844,-0.001),(845,0.000),(847,-0.001),(849,-0.003),(850,0.002),(851,-0.003),(852,0.007),(853,0.002),(854,-0.008),(855,0.007),(856,-0.003),(857,0.007),(858,0.016),(859,0.002),(860,-0.008),(861,-0.022),(862,-0.003),(863,-0.017),(864,-0.008),(865,0.007),(866,0.011),(867,-0.003),(868,-0.003),(869,-0.017),(870,-0.022),(871,-0.008),(872,-0.027),(873,-0.022),(874,0.002),(875,0.026),(876,0.011),(877,-0.012),(878,-0.003),(879,0.016),(880,0.007),(881,0.031),(882,0.007),(883,0.002),(884,-0.017),(885,-0.027),(886,-0.012),(887,0.002),(888,-0.001),(889,-0.008),(890,0.002),(891,0.007),(892,-0.003),(893,0.007),(894,0.016),(895,0.021),(896,-0.003),(897,-0.012),(898,-0.008),(899,0.011),(900,0.011),(901,0.002),(902,0.005),(903,0.007),(904,0.007),(905,0.009),(906,0.014),(907,0.018),(908,0.031),(909,0.011),(910,0.002),(911,-0.003),(912,-0.011),(913,0.002),(914,0.007),(915,0.007),(916,0.002),(917,0.011),(918,0.002),(919,0.007),(920,-0.003),(921,0.007),(922,-0.005),(923,0.002),(924,0.007),(925,0.011),(926,-0.005),(927,-0.008),(928,0.002),(929,0.002),(930,-0.003),(931,0.002),(932,0.026),(933,-0.003),(934,0.002),(935,0.007),(936,0.005),(937,0.007),(938,0.005),(939,0.009),(940,0.007),(942,0.005),(943,0.002),(944,0.002),(945,-0.003),(946,-0.005),(947,-0.008),(948,-0.017),(949,-0.011)]

EPS = '<i><span style="font-family:DejaVu Sans">ϵ̂</span></i>'
series_names = [
    "Stage 1: R = 0.00 ppm; " + EPS + "<sup>WACD</sup><sub><i>RS</i></sub> = 77.16 ppm",
    "Stage 2: R = 77.16 ppm; " + EPS + "<sup>WACD</sup><sub><i>RS</i></sub> = 95.29 ppm",
    "Stage 3: R = 95.29 ppm; " + EPS + "<sup>WACD</sup><sub><i>RS</i></sub> = 99.19 ppm",
    "Stage 4: R = 99.19 ppm; " + EPS + "<sup>WACD</sup><sub><i>RS</i></sub> = 100.02 ppm",
]
series_colors = ["#000000", "#00ff00", "#0000ff", "#ff0000"]

x_ticks = [50, 100, 150, 200, 250, 300, 350, 400, 450, 500, 550, 600, 650, 700, 750, 800, 850, 900]
y_ticks = [0, -0.2, -0.4, -0.6, -0.8, -1.0, -1.2]
MINUS = '<span style="font-family:DejaVu Sans">−</span>'
y_tick_labels = ["0", MINUS + "0.2", MINUS + "0.4", MINUS + "0.6", MINUS + "0.8", MINUS + "1", MINUS + "1.2"]

# ---------------- figure ----------------
FONT = "Liberation Sans, Arial, Helvetica, sans-serif"
fig = go.Figure()
for data, name, color in zip([stage1, stage2, stage3, stage4], series_names, series_colors):
    ks = [p[0] for p in data]
    vals = [p[1] for p in data]
    fig.add_trace(go.Scatter(x=ks, y=vals, mode="lines", name=name,
                             line=dict(color=color, width=1.6)))

axis_common = dict(showgrid=True, gridcolor="#d4d4d4", gridwidth=1, zeroline=False,
                   showline=True, linecolor="#505050", linewidth=1.5, mirror="ticks",
                   ticks="inside", ticklen=11, tickcolor="#707070", tickwidth=1.2,
                   tickfont=dict(family=FONT, size=36, color="#000000"))

# page body has an 8px margin: figure is 2161x983 so page = 2169x991
fig.update_layout(
    width=2161, height=983,
    margin=dict(l=210, r=30, t=29, b=93, autoexpand=False),
    paper_bgcolor="white", plot_bgcolor="white",
    font=dict(family=FONT, color="#000000"),
    xaxis=dict(range=[1, 949.5], tickmode="array", tickvals=x_ticks,
               ticklabelstandoff=-9, **axis_common),
    yaxis=dict(range=[-1.333, 0.146], tickmode="array", tickvals=y_ticks,
               ticktext=y_tick_labels, ticklabelstandoff=6, **axis_common),
    legend=dict(x=0.0146, y=0.0163, xanchor="left", yanchor="bottom",
                bgcolor="white", bordercolor="#333333", borderwidth=1.5,
                font=dict(family=FONT, size=36, color="#000000"),
                itemwidth=47, tracegroupgap=0),
    showlegend=True,
    annotations=[
        dict(text="Frequency bin k", xref="paper", yref="paper", x=0.5, y=-0.0767,
             xanchor="center", yanchor="middle", showarrow=False,
             font=dict(family=FONT, size=36, color="#000000")),
        dict(text="∠{<i>P</i><sup>WACD</sup>(<i>k</i>)}", xref="paper", yref="paper",
             x=-0.0833, y=0.5, xanchor="center", yanchor="middle", textangle=-90,
             showarrow=False, font=dict(family=FONT, size=37, color="#000000")),
    ],
)

fig.write_html("out.html")
